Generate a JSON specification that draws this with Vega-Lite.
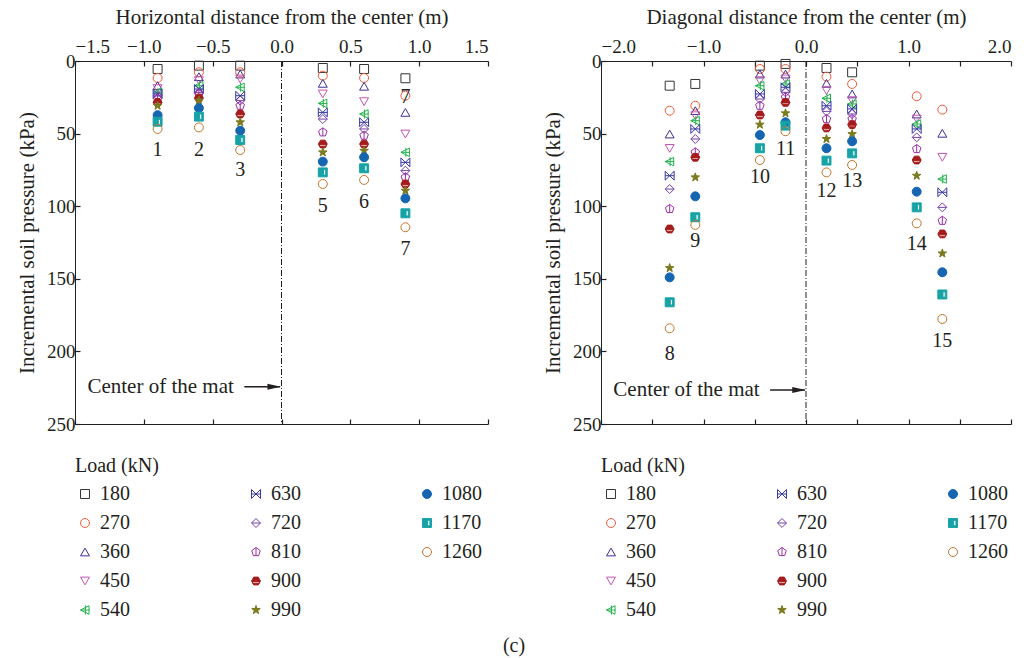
{
  "$schema": "https://vega.github.io/schema/vega-lite/v6.json",
  "background": "white",
  "padding": {"left": 16, "top": 6, "right": 8, "bottom": 4},
  "config": {
    "font": "Liberation Serif",
    "view": {"stroke": null},
    "axis": {"grid": false, "domainColor": "#231F20", "tickColor": "#231F20", "labelColor": "#231F20", "titleColor": "#231F20", "labelFontSize": 19, "titleFontSize": 21, "titleFontWeight": "normal", "tickSize": -5, "tickWidth": 1.2, "domainWidth": 1, "labelPadding": 6, "labelFont": "Liberation Serif", "titleFont": "Liberation Serif"},
    "legend": {"labelFont": "Liberation Serif", "titleFont": "Liberation Serif", "labelColor": "#231F20", "titleColor": "#231F20"},
    "title": {"font": "Liberation Serif"}
  },
  "title": {"text": "(c)", "orient": "bottom", "anchor": "middle", "fontSize": 20, "fontWeight": "normal", "color": "#231F20", "offset": 16},
  "resolve": {"scale": {"shape": "independent", "stroke": "independent", "fill": "independent"}, "legend": {"shape": "independent", "stroke": "independent", "fill": "independent"}},
  "spacing": 53,
  "datasets": {
    "left": [
      {"pos": -0.9, "load": "180", "p": 5.5}, {"pos": -0.9, "load": "270", "p": 11.7}, {"pos": -0.9, "load": "360", "p": 17}, {"pos": -0.9, "load": "450", "p": 19}, {"pos": -0.9, "load": "540", "p": 21.6}, {"pos": -0.9, "load": "630", "p": 22.7}, {"pos": -0.9, "load": "720", "p": 24}, {"pos": -0.9, "load": "810", "p": 26}, {"pos": -0.9, "load": "900", "p": 28.5}, {"pos": -0.9, "load": "990", "p": 30.8}, {"pos": -0.9, "load": "1080", "p": 37.3}, {"pos": -0.9, "load": "1170", "p": 41.8}, {"pos": -0.9, "load": "1260", "p": 46.8},
      {"pos": -0.6, "load": "180", "p": 3.2}, {"pos": -0.6, "load": "270", "p": 7.8}, {"pos": -0.6, "load": "360", "p": 10.8}, {"pos": -0.6, "load": "450", "p": 13.5}, {"pos": -0.6, "load": "540", "p": 17}, {"pos": -0.6, "load": "630", "p": 19.3}, {"pos": -0.6, "load": "720", "p": 21.6}, {"pos": -0.6, "load": "810", "p": 22.7}, {"pos": -0.6, "load": "900", "p": 25.5}, {"pos": -0.6, "load": "990", "p": 27.3}, {"pos": -0.6, "load": "1080", "p": 32.4}, {"pos": -0.6, "load": "1170", "p": 38.3}, {"pos": -0.6, "load": "1260", "p": 45.7},
      {"pos": -0.3, "load": "180", "p": 3.2}, {"pos": -0.3, "load": "270", "p": 7.8}, {"pos": -0.3, "load": "360", "p": 9}, {"pos": -0.3, "load": "450", "p": 12.4}, {"pos": -0.3, "load": "540", "p": 18.1}, {"pos": -0.3, "load": "630", "p": 23.9}, {"pos": -0.3, "load": "720", "p": 27.3}, {"pos": -0.3, "load": "810", "p": 30.8}, {"pos": -0.3, "load": "900", "p": 36.5}, {"pos": -0.3, "load": "990", "p": 42.2}, {"pos": -0.3, "load": "1080", "p": 48}, {"pos": -0.3, "load": "1170", "p": 54.4}, {"pos": -0.3, "load": "1260", "p": 61.3},
      {"pos": 0.3, "load": "180", "p": 4.8}, {"pos": 0.3, "load": "270", "p": 10.1}, {"pos": 0.3, "load": "360", "p": 15.4}, {"pos": 0.3, "load": "450", "p": 22.7}, {"pos": 0.3, "load": "540", "p": 29.2}, {"pos": 0.3, "load": "630", "p": 35.4}, {"pos": 0.3, "load": "720", "p": 40}, {"pos": 0.3, "load": "810", "p": 49.1}, {"pos": 0.3, "load": "900", "p": 57.2}, {"pos": 0.3, "load": "990", "p": 62.9}, {"pos": 0.3, "load": "1080", "p": 69.3}, {"pos": 0.3, "load": "1170", "p": 76.7}, {"pos": 0.3, "load": "1260", "p": 84.7},
      {"pos": 0.6, "load": "180", "p": 5.5}, {"pos": 0.6, "load": "270", "p": 11.7}, {"pos": 0.6, "load": "360", "p": 17.4}, {"pos": 0.6, "load": "450", "p": 28}, {"pos": 0.6, "load": "540", "p": 36.5}, {"pos": 0.6, "load": "630", "p": 42.2}, {"pos": 0.6, "load": "720", "p": 46.8}, {"pos": 0.6, "load": "810", "p": 51.4}, {"pos": 0.6, "load": "900", "p": 57.2}, {"pos": 0.6, "load": "990", "p": 61.8}, {"pos": 0.6, "load": "1080", "p": 66.3}, {"pos": 0.6, "load": "1170", "p": 73.9}, {"pos": 0.6, "load": "1260", "p": 81.9},
      {"pos": 0.9, "load": "180", "p": 11.9}, {"pos": 0.9, "load": "270", "p": 23.9}, {"pos": 0.9, "load": "360", "p": 35.4}, {"pos": 0.9, "load": "450", "p": 50.3}, {"pos": 0.9, "load": "540", "p": 62.9}, {"pos": 0.9, "load": "630", "p": 69.8}, {"pos": 0.9, "load": "720", "p": 75.5}, {"pos": 0.9, "load": "810", "p": 80.1}, {"pos": 0.9, "load": "900", "p": 84.7}, {"pos": 0.9, "load": "990", "p": 89.3}, {"pos": 0.9, "load": "1080", "p": 94.6}, {"pos": 0.9, "load": "1170", "p": 104.9}, {"pos": 0.9, "load": "1260", "p": 114.5}
    ],
    "right": [
      {"pos": -1.33, "load": "180", "p": 17}, {"pos": -1.33, "load": "270", "p": 34.2}, {"pos": -1.33, "load": "360", "p": 50.3}, {"pos": -1.33, "load": "450", "p": 60.2}, {"pos": -1.33, "load": "540", "p": 69.3}, {"pos": -1.33, "load": "630", "p": 79}, {"pos": -1.33, "load": "720", "p": 88.2}, {"pos": -1.33, "load": "810", "p": 101.9}, {"pos": -1.33, "load": "900", "p": 115.7}, {"pos": -1.33, "load": "990", "p": 142.6}, {"pos": -1.33, "load": "1080", "p": 149}, {"pos": -1.33, "load": "1170", "p": 166.2}, {"pos": -1.33, "load": "1260", "p": 184.1},
      {"pos": -1.08, "load": "180", "p": 15.8}, {"pos": -1.08, "load": "270", "p": 30.8}, {"pos": -1.08, "load": "360", "p": 34.2}, {"pos": -1.08, "load": "450", "p": 37.7}, {"pos": -1.08, "load": "540", "p": 41.1}, {"pos": -1.08, "load": "630", "p": 46.8}, {"pos": -1.08, "load": "720", "p": 53.7}, {"pos": -1.08, "load": "810", "p": 62.9}, {"pos": -1.08, "load": "900", "p": 66.3}, {"pos": -1.08, "load": "990", "p": 80.1}, {"pos": -1.08, "load": "1080", "p": 93.2}, {"pos": -1.08, "load": "1170", "p": 107.6}, {"pos": -1.08, "load": "1260", "p": 112.9},
      {"pos": -0.45, "load": "180", "p": 3.2}, {"pos": -0.45, "load": "270", "p": 5.5}, {"pos": -0.45, "load": "360", "p": 9}, {"pos": -0.45, "load": "450", "p": 13.5}, {"pos": -0.45, "load": "540", "p": 17}, {"pos": -0.45, "load": "630", "p": 22.7}, {"pos": -0.45, "load": "720", "p": 26.2}, {"pos": -0.45, "load": "810", "p": 30.8}, {"pos": -0.45, "load": "900", "p": 37.2}, {"pos": -0.45, "load": "990", "p": 43.8}, {"pos": -0.45, "load": "1080", "p": 51}, {"pos": -0.45, "load": "1170", "p": 60.1}, {"pos": -0.45, "load": "1260", "p": 68.2},
      {"pos": -0.2, "load": "180", "p": 2}, {"pos": -0.2, "load": "270", "p": 5.5}, {"pos": -0.2, "load": "360", "p": 9}, {"pos": -0.2, "load": "450", "p": 12.4}, {"pos": -0.2, "load": "540", "p": 15.8}, {"pos": -0.2, "load": "630", "p": 18.1}, {"pos": -0.2, "load": "720", "p": 21.6}, {"pos": -0.2, "load": "810", "p": 25}, {"pos": -0.2, "load": "900", "p": 28.5}, {"pos": -0.2, "load": "990", "p": 36}, {"pos": -0.2, "load": "1080", "p": 42.2}, {"pos": -0.2, "load": "1170", "p": 44.5}, {"pos": -0.2, "load": "1260", "p": 48.4},
      {"pos": 0.2, "load": "180", "p": 4.8}, {"pos": 0.2, "load": "270", "p": 10.8}, {"pos": 0.2, "load": "360", "p": 15.4}, {"pos": 0.2, "load": "450", "p": 20.4}, {"pos": 0.2, "load": "540", "p": 25.7}, {"pos": 0.2, "load": "630", "p": 30.8}, {"pos": 0.2, "load": "720", "p": 34.7}, {"pos": 0.2, "load": "810", "p": 40}, {"pos": 0.2, "load": "900", "p": 46.1}, {"pos": 0.2, "load": "990", "p": 53.7}, {"pos": 0.2, "load": "1080", "p": 60.1}, {"pos": 0.2, "load": "1170", "p": 68.6}, {"pos": 0.2, "load": "1260", "p": 76.7},
      {"pos": 0.45, "load": "180", "p": 7.8}, {"pos": 0.45, "load": "270", "p": 15.8}, {"pos": 0.45, "load": "360", "p": 22.7}, {"pos": 0.45, "load": "450", "p": 27.3}, {"pos": 0.45, "load": "540", "p": 29.6}, {"pos": 0.45, "load": "630", "p": 33}, {"pos": 0.45, "load": "720", "p": 36.5}, {"pos": 0.45, "load": "810", "p": 40}, {"pos": 0.45, "load": "900", "p": 43.8}, {"pos": 0.45, "load": "990", "p": 50.3}, {"pos": 0.45, "load": "1080", "p": 55.3}, {"pos": 0.45, "load": "1170", "p": 63.6}, {"pos": 0.45, "load": "1260", "p": 71.6},
      {"pos": 1.08, "load": "270", "p": 24.3}, {"pos": 1.08, "load": "360", "p": 36.5}, {"pos": 1.08, "load": "450", "p": 40}, {"pos": 1.08, "load": "540", "p": 43.4}, {"pos": 1.08, "load": "630", "p": 46.8}, {"pos": 1.08, "load": "720", "p": 52.6}, {"pos": 1.08, "load": "810", "p": 60.6}, {"pos": 1.08, "load": "900", "p": 68.2}, {"pos": 1.08, "load": "990", "p": 79}, {"pos": 1.08, "load": "1080", "p": 90}, {"pos": 1.08, "load": "1170", "p": 100.8}, {"pos": 1.08, "load": "1260", "p": 111.8},
      {"pos": 1.33, "load": "270", "p": 33.5}, {"pos": 1.33, "load": "360", "p": 49.8}, {"pos": 1.33, "load": "450", "p": 66.3}, {"pos": 1.33, "load": "540", "p": 81.3}, {"pos": 1.33, "load": "630", "p": 90.4}, {"pos": 1.33, "load": "720", "p": 100.8}, {"pos": 1.33, "load": "810", "p": 110}, {"pos": 1.33, "load": "900", "p": 119.1}, {"pos": 1.33, "load": "990", "p": 132.5}, {"pos": 1.33, "load": "1080", "p": 145.5}, {"pos": 1.33, "load": "1170", "p": 160.8}, {"pos": 1.33, "load": "1260", "p": 177.7}
    ],
    "leftLabels": [
      {"pos": -0.9, "p": 61.3, "label": "1"}, {"pos": -0.6, "p": 61.3, "label": "2"}, {"pos": -0.3, "p": 75, "label": "3"}, {"pos": 0.3, "p": 99.6, "label": "5"}, {"pos": 0.6, "p": 97, "label": "6"}, {"pos": 0.9, "p": 24.6, "label": "7"}, {"pos": 0.9, "p": 129.5, "label": "7"}
    ],
    "rightLabels": [
      {"pos": -1.33, "p": 201.8, "label": "8"}, {"pos": -1.08, "p": 123.8, "label": "9"}, {"pos": -0.45, "p": 80.1, "label": "10"}, {"pos": -0.2, "p": 60.6, "label": "11"}, {"pos": 0.2, "p": 89.3, "label": "12"}, {"pos": 0.45, "p": 82.4, "label": "13"}, {"pos": 1.08, "p": 126, "label": "14"}, {"pos": 1.33, "p": 192.6, "label": "15"}
    ],
    "leftNote": [{"tx": -0.878, "a0": -0.27, "a1": -0.01, "p": 224.3, "label": "Center of the mat"}],
    "rightNote": [{"tx": -1.166, "a0": -0.35, "a1": -0.01, "p": 226.6, "label": "Center of the mat"}],
    "center": [{"pos": 0}]
  },
  "hconcat": [
    {
      "width": 413,
      "height": 363,
      "layer": [
        {
          "data": {"name": "center"},
          "mark": {"type": "rule", "color": "#231F20", "strokeWidth": 1, "strokeDash": [6, 2, 1, 2]},
          "encoding": {
            "x": {"field": "pos", "type": "quantitative", "scale": {"domain": [-1.5, 1.5], "nice": false, "zero": false}, "axis": {"orient": "bottom", "labels": false, "title": null, "values": [-1.5, -1, -0.5, 0, 0.5, 1, 1.5]}}
          }
        },
        {
          "data": {"name": "left"},
          "mark": {"type": "point", "size": 80, "strokeWidth": 1, "opacity": 1},
          "encoding": {
            "x": {"field": "pos", "type": "quantitative", "axis": {"orient": "top", "title": "Horizontal distance from the center (m)", "values": [-1.5, -1, -0.5, 0, 0.5, 1, 1.5], "format": ".1f", "titlePadding": 10, "labelPadding": 10}},
            "y": {"field": "p", "type": "quantitative", "scale": {"domain": [0, 250], "reverse": true, "nice": false}, "axis": {"orient": "left", "title": "Incremental soil pressure (kPa)", "values": [0, 50, 100, 150, 200, 250], "titlePadding": 9, "labelPadding": 5}},
            "shape": {"field": "load", "type": "nominal", "scale": {"domain": ["180", "630", "1080", "270", "720", "1170", "360", "810", "1260", "450", "900", "_", "540", "990"], "range": ["square", "M-1,-1L1,1L1,-1L-1,1ZM-1,0L1,0", "circle", "circle", "M0,-1L1,0L0,1L-1,0ZM-1,0L1,0", "M-1,-1L1,-1L1,1L-1,1ZM0.15,-0.6L0.15,0.6L0.65,0.6L0.65,-0.6Z", "triangle-up", "M0,-1L0.95,-0.31L0.59,0.81L-0.59,0.81L-0.95,-0.31ZM0,-1L0,0.81", "circle", "triangle-down", "M-0.5,-0.87L0.5,-0.87L1,0L0.5,0.87L-0.5,0.87L-1,0ZM-0.75,0.15L-0.75,0.5L0.75,0.5L0.75,0.15Z", "circle", "M-1,0L0.9,-0.95L0.9,0.95ZM0.1,-1L0.1,1M-1,0L1,0", "M0,-1L0.235,-0.324L0.951,-0.309L0.38,0.124L0.588,0.809L0,0.4L-0.588,0.809L-0.38,0.124L-0.951,-0.309L-0.235,-0.324Z"]},
              "legend": {"title": "Load (kN)", "orient": "bottom", "columns": 3, "columnPadding": 116, "rowPadding": 9, "symbolSize": 80, "symbolStrokeWidth": 1, "labelFontSize": 20, "titleFontSize": 20, "titleFontWeight": "normal", "titlePadding": 8, "offset": 31, "labelOffset": 5, "labelExpr": "datum.label == '_' ? '' : datum.label"}},
            "stroke": {"field": "load", "type": "nominal", "scale": {"domain": ["180", "630", "1080", "270", "720", "1170", "360", "810", "1260", "450", "900", "_", "540", "990"], "range": ["#333333", "#3535A5", "#1565B0", "#F15A3A", "#7440A8", "#17A3A6", "#3C3091", "#9B2FA8", "#C0762F", "#C254B0", "#A51C1C", "transparent", "#22B24C", "#7A7A1E"]},
              "legend": {"title": "Load (kN)", "orient": "bottom", "columns": 3, "columnPadding": 116, "rowPadding": 9, "symbolSize": 80, "symbolStrokeWidth": 1, "labelFontSize": 20, "titleFontSize": 20, "titleFontWeight": "normal", "titlePadding": 8, "offset": 31, "labelOffset": 5, "labelExpr": "datum.label == '_' ? '' : datum.label"}},
            "fill": {"field": "load", "type": "nominal", "scale": {"domain": ["180", "630", "1080", "270", "720", "1170", "360", "810", "1260", "450", "900", "_", "540", "990"], "range": ["transparent", "transparent", "#1565B0", "transparent", "transparent", "#17A3A6", "transparent", "transparent", "transparent", "transparent", "#A51C1C", "transparent", "transparent", "#7A7A1E"]},
              "legend": {"title": "Load (kN)", "orient": "bottom", "columns": 3, "columnPadding": 116, "rowPadding": 9, "symbolSize": 80, "symbolStrokeWidth": 1, "labelFontSize": 20, "titleFontSize": 20, "titleFontWeight": "normal", "titlePadding": 8, "offset": 31, "labelOffset": 5, "labelExpr": "datum.label == '_' ? '' : datum.label"}}
          }
        },
        {
          "data": {"name": "leftLabels"},
          "mark": {"type": "text", "fontSize": 20, "color": "#231F20", "baseline": "middle", "align": "center"},
          "encoding": {
            "x": {"field": "pos", "type": "quantitative", "axis": null},
            "y": {"field": "p", "type": "quantitative"},
            "text": {"field": "label"}
          }
        },
        {
          "data": {"name": "leftNote"},
          "mark": {"type": "text", "fontSize": 21, "color": "#231F20", "baseline": "middle", "align": "center"},
          "encoding": {
            "x": {"field": "tx", "type": "quantitative", "axis": null},
            "y": {"field": "p", "type": "quantitative"},
            "text": {"field": "label"}
          }
        },
        {
          "data": {"name": "leftNote"},
          "mark": {"type": "rule", "color": "#231F20", "strokeWidth": 1.5},
          "encoding": {
            "x": {"field": "a0", "type": "quantitative", "axis": null},
            "x2": {"field": "a1"},
            "y": {"field": "p", "type": "quantitative"}
          }
        },
        {
          "data": {"name": "leftNote"},
          "mark": {"type": "point", "shape": "M-1,-0.45L1,0L-1,0.45Z", "size": 180, "filled": true, "color": "#231F20", "opacity": 1, "xOffset": -6},
          "encoding": {
            "x": {"field": "a1", "type": "quantitative", "axis": null},
            "y": {"field": "p", "type": "quantitative"}
          }
        }
      ]
    },
    {
      "width": 410,
      "height": 363,
      "layer": [
        {
          "data": {"name": "center"},
          "mark": {"type": "rule", "color": "#231F20", "strokeWidth": 1, "strokeDash": [6, 2, 1, 2]},
          "encoding": {
            "x": {"field": "pos", "type": "quantitative", "scale": {"domain": [-2, 2], "nice": false, "zero": false}, "axis": {"orient": "bottom", "labels": false, "title": null, "values": [-2, -1.5, -1, -0.5, 0, 0.5, 1, 1.5, 2]}}
          }
        },
        {
          "data": {"name": "right"},
          "mark": {"type": "point", "size": 80, "strokeWidth": 1, "opacity": 1},
          "encoding": {
            "x": {"field": "pos", "type": "quantitative", "axis": {"orient": "top", "title": "Diagonal distance from the center (m)", "values": [-2, -1.5, -1, -0.5, 0, 0.5, 1, 1.5, 2], "format": ".1f", "titlePadding": 10, "labelPadding": 10}},
            "y": {"field": "p", "type": "quantitative", "scale": {"domain": [0, 250], "reverse": true, "nice": false}, "axis": {"orient": "left", "title": "Incremental soil pressure (kPa)", "values": [0, 50, 100, 150, 200, 250], "titlePadding": 9, "labelPadding": 5}},
            "shape": {"field": "load", "type": "nominal", "scale": {"domain": ["180", "630", "1080", "270", "720", "1170", "360", "810", "1260", "450", "900", "_", "540", "990"], "range": ["square", "M-1,-1L1,1L1,-1L-1,1ZM-1,0L1,0", "circle", "circle", "M0,-1L1,0L0,1L-1,0ZM-1,0L1,0", "M-1,-1L1,-1L1,1L-1,1ZM0.15,-0.6L0.15,0.6L0.65,0.6L0.65,-0.6Z", "triangle-up", "M0,-1L0.95,-0.31L0.59,0.81L-0.59,0.81L-0.95,-0.31ZM0,-1L0,0.81", "circle", "triangle-down", "M-0.5,-0.87L0.5,-0.87L1,0L0.5,0.87L-0.5,0.87L-1,0ZM-0.75,0.15L-0.75,0.5L0.75,0.5L0.75,0.15Z", "circle", "M-1,0L0.9,-0.95L0.9,0.95ZM0.1,-1L0.1,1M-1,0L1,0", "M0,-1L0.235,-0.324L0.951,-0.309L0.38,0.124L0.588,0.809L0,0.4L-0.588,0.809L-0.38,0.124L-0.951,-0.309L-0.235,-0.324Z"]},
              "legend": {"title": "Load (kN)", "orient": "bottom", "columns": 3, "columnPadding": 116, "rowPadding": 9, "symbolSize": 80, "symbolStrokeWidth": 1, "labelFontSize": 20, "titleFontSize": 20, "titleFontWeight": "normal", "titlePadding": 8, "offset": 31, "labelOffset": 5, "labelExpr": "datum.label == '_' ? '' : datum.label"}},
            "stroke": {"field": "load", "type": "nominal", "scale": {"domain": ["180", "630", "1080", "270", "720", "1170", "360", "810", "1260", "450", "900", "_", "540", "990"], "range": ["#333333", "#3535A5", "#1565B0", "#F15A3A", "#7440A8", "#17A3A6", "#3C3091", "#9B2FA8", "#C0762F", "#C254B0", "#A51C1C", "transparent", "#22B24C", "#7A7A1E"]},
              "legend": {"title": "Load (kN)", "orient": "bottom", "columns": 3, "columnPadding": 116, "rowPadding": 9, "symbolSize": 80, "symbolStrokeWidth": 1, "labelFontSize": 20, "titleFontSize": 20, "titleFontWeight": "normal", "titlePadding": 8, "offset": 31, "labelOffset": 5, "labelExpr": "datum.label == '_' ? '' : datum.label"}},
            "fill": {"field": "load", "type": "nominal", "scale": {"domain": ["180", "630", "1080", "270", "720", "1170", "360", "810", "1260", "450", "900", "_", "540", "990"], "range": ["transparent", "transparent", "#1565B0", "transparent", "transparent", "#17A3A6", "transparent", "transparent", "transparent", "transparent", "#A51C1C", "transparent", "transparent", "#7A7A1E"]},
              "legend": {"title": "Load (kN)", "orient": "bottom", "columns": 3, "columnPadding": 116, "rowPadding": 9, "symbolSize": 80, "symbolStrokeWidth": 1, "labelFontSize": 20, "titleFontSize": 20, "titleFontWeight": "normal", "titlePadding": 8, "offset": 31, "labelOffset": 5, "labelExpr": "datum.label == '_' ? '' : datum.label"}}
          }
        },
        {
          "data": {"name": "rightLabels"},
          "mark": {"type": "text", "fontSize": 20, "color": "#231F20", "baseline": "middle", "align": "center"},
          "encoding": {
            "x": {"field": "pos", "type": "quantitative", "axis": null},
            "y": {"field": "p", "type": "quantitative"},
            "text": {"field": "label"}
          }
        },
        {
          "data": {"name": "rightNote"},
          "mark": {"type": "text", "fontSize": 21, "color": "#231F20", "baseline": "middle", "align": "center"},
          "encoding": {
            "x": {"field": "tx", "type": "quantitative", "axis": null},
            "y": {"field": "p", "type": "quantitative"},
            "text": {"field": "label"}
          }
        },
        {
          "data": {"name": "rightNote"},
          "mark": {"type": "rule", "color": "#231F20", "strokeWidth": 1.5},
          "encoding": {
            "x": {"field": "a0", "type": "quantitative", "axis": null},
            "x2": {"field": "a1"},
            "y": {"field": "p", "type": "quantitative"}
          }
        },
        {
          "data": {"name": "rightNote"},
          "mark": {"type": "point", "shape": "M-1,-0.45L1,0L-1,0.45Z", "size": 180, "filled": true, "color": "#231F20", "opacity": 1, "xOffset": -6},
          "encoding": {
            "x": {"field": "a1", "type": "quantitative", "axis": null},
            "y": {"field": "p", "type": "quantitative"}
          }
        }
      ]
    }
  ]
}
